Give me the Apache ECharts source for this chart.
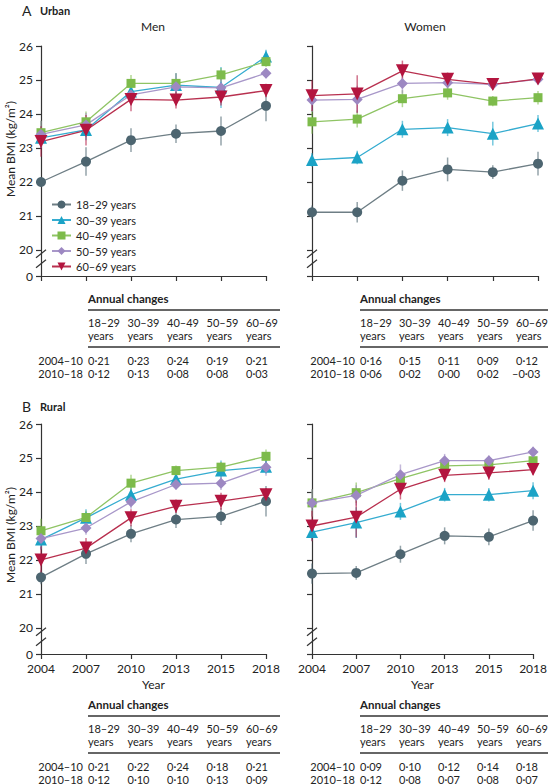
<!DOCTYPE html>
<html><head><meta charset="utf-8">
<script src="https://cdn.jsdelivr.net/npm/echarts@6/dist/echarts.min.js"></script>
<style>html,body{margin:0;padding:0;background:#fff}#c{width:550px;height:784px}</style>
</head><body><div id="c"></div>
<script>
const years = ['2004','2007','2010','2013','2015','2018'];
const ageGroups = ['18–29 years','30–39 years','40–49 years','50–59 years','60–69 years'];
const yTicks = [20,21,22,23,24,25,26];
const periods = ['2004–10','2010–18'];

// mean BMI, rows = age groups, columns = years
const urbanMenMean = [
 [22.00,22.60,23.23,23.42,23.50,24.24],
 [23.30,23.53,24.66,24.85,24.78,25.69],
 [23.45,23.77,24.90,24.90,25.15,25.54],
 [23.40,23.68,24.56,24.80,24.77,25.20],
 [23.19,23.52,24.43,24.41,24.50,24.69]];
const urbanMenErr = [
 [0.10,0.42,0.35,0.27,0.43,0.45],
 [0.30,0.30,0.35,0.35,0.60,0.20],
 [0.35,0.30,0.25,0.30,0.20,0.15],
 [0.40,0.35,0.30,0.40,0.30,0.15],
 [0.45,0.45,0.35,0.25,0.25,0.20]];
const urbanWomenMean = [
 [21.11,21.11,22.04,22.37,22.29,22.54],
 [22.65,22.72,23.55,23.60,23.42,23.72],
 [23.77,23.85,24.45,24.62,24.38,24.48],
 [24.41,24.43,24.90,24.92,24.87,25.02],
 [24.54,24.59,25.27,25.02,24.87,25.03]];
const urbanWomenErr = [
 [0.20,0.30,0.30,0.35,0.20,0.35],
 [0.20,0.20,0.25,0.25,0.35,0.25],
 [0.35,0.25,0.25,0.20,0.15,0.20],
 [0.35,0.40,0.30,0.20,0.15,0.15],
 [0.45,0.55,0.30,0.20,0.15,0.15]];
const ruralMenMean = [
 [21.49,22.18,22.77,23.19,23.28,23.73],
 [22.60,23.24,23.92,24.38,24.63,24.74],
 [22.86,23.25,24.26,24.63,24.73,25.05],
 [22.63,22.94,23.71,24.22,24.26,24.73],
 [22.00,22.35,23.24,23.58,23.73,23.92]];
const ruralMenErr = [
 [0.20,0.30,0.25,0.25,0.25,0.45],
 [0.30,0.25,0.25,0.20,0.30,0.20],
 [0.35,0.20,0.25,0.15,0.15,0.20],
 [0.30,0.20,0.20,0.15,0.20,0.25],
 [0.40,0.30,0.25,0.20,0.25,0.20]];
const ruralWomenMean = [
 [21.60,21.62,22.17,22.71,22.68,23.16],
 [22.82,23.10,23.43,23.92,23.92,24.04],
 [23.68,23.98,24.39,24.77,24.80,24.92],
 [23.68,23.90,24.51,24.92,24.92,25.18],
 [23.00,23.26,24.08,24.49,24.56,24.66]];
const ruralWomenErr = [
 [0.30,0.20,0.25,0.25,0.25,0.30],
 [0.25,0.45,0.25,0.20,0.20,0.25],
 [0.40,0.30,0.20,0.15,0.15,0.15],
 [0.40,0.30,0.30,0.20,0.15,0.15],
 [0.45,0.60,0.30,0.20,0.20,0.15]];

// annual changes tables, rows = periods, columns = age groups
const urbanMenChange = [[0.21,0.23,0.24,0.19,0.21],[0.12,0.13,0.08,0.08,0.03]];
const urbanWomenChange = [[0.16,0.15,0.11,0.09,0.12],[0.06,0.02,0.00,0.02,-0.03]];
const ruralMenChange = [[0.21,0.22,0.24,0.18,0.21],[0.12,0.10,0.10,0.13,0.09]];
const ruralWomenChange = [[0.09,0.10,0.12,0.14,0.18],[0.12,0.08,0.07,0.08,0.07]];

const FONT = 'Lato, "Open Sans", sans-serif';
const TXT = '#222';
const AX = '#333';
const colors = ['#4d6570','#1ba3c6','#7dbb4b','#9d88c2','#b3153f'];
const lineColors = ['#6e7e85','#35acd0','#8fc464','#a897c9','#b8304f'];
const symbols = ['circle','triangle','rect','diamond','triangle'];
const symbolSizes = [10,12,9,11,13];
const symbolRotates = [0,0,0,0,180];
const yMin = 19.235;

const panels = [
 {mean: urbanMenMean, err: urbanMenErr, grid:{left:41, top:46, width:225, height:230}, labels:true, xlab:false},
 {mean: urbanWomenMean, err: urbanWomenErr, grid:{left:312, top:46, width:226, height:230}, labels:false, xlab:false},
 {mean: ruralMenMean, err: ruralMenErr, grid:{left:41, top:424, width:225, height:230}, labels:true, xlab:true},
 {mean: ruralWomenMean, err: ruralWomenErr, grid:{left:312, top:424, width:226, height:230}, labels:false, xlab:true}
];

const chart = echarts.init(document.getElementById('c'), null, {renderer:'svg'});

const grid = panels.map(p => p.grid);
const xAxis = panels.map((p,i) => ({
  type:'category', gridIndex:i, data: years, boundaryGap:false,
  axisLine:{show:true, onZero:false, lineStyle:{color:AX, width:1.2}},
  axisTick:{show:true, length:5, interval:0, lineStyle:{color:AX, width:1.2}},
  axisLabel:{show:p.xlab, interval:0, color:TXT, fontSize:12, fontFamily:FONT, margin:8},
  splitLine:{show:false},
  name: p.xlab ? 'Year' : '', nameLocation:'middle', nameGap:24,
  nameTextStyle:{color:TXT, fontSize:12, fontFamily:FONT}
}));
const yTickVals = [yMin].concat(yTicks);
const yAxis = panels.map((p,i) => ({
  type:'value', gridIndex:i, min:yMin, max:26,
  axisLine:{show:true, lineStyle:{color:AX, width:1.2}},
  axisTick:{show:true, length:5, customValues:yTickVals, lineStyle:{color:AX, width:1.2}},
  axisLabel:{show:p.labels, customValues:yTickVals, color:TXT, fontSize:12, fontFamily:FONT, margin:8,
    formatter: v => (v < 19.9 ? '0' : String(Math.round(v)))},
  splitLine:{show:false}
}));

const series = [];
panels.forEach((p,i) => {
  p.mean.forEach((row,k) => {
    series.push({
      type:'custom', xAxisIndex:i, yAxisIndex:i, silent:true, z:1,
      renderItem:(params, api) => {
        const lo = api.coord([api.value(0), api.value(1)]);
        const hi = api.coord([api.value(0), api.value(2)]);
        return {type:'line', shape:{x1:lo[0], y1:lo[1], x2:hi[0], y2:hi[1]},
          style:{stroke:colors[k], lineWidth:1.5, opacity:0.6}};
      },
      data: row.map((m,j) => [j, m - p.err[k][j], m + p.err[k][j]])
    });
  });
  p.mean.forEach((row,k) => {
    series.push({
      type:'line', name: ageGroups[k], xAxisIndex:i, yAxisIndex:i, z:3,
      data: row, symbol: symbols[k], symbolSize: symbolSizes[k], symbolRotate: symbolRotates[k],
      showAllSymbol:true,
      lineStyle:{color: lineColors[k], width:1.3},
      itemStyle:{color: colors[k]},
      emphasis:{disabled:true}, animation:false
    });
  });
});

chart.setOption({
  animation:false,
  grid, xAxis, yAxis, series,
  legend:{
    data: ageGroups, orient:'vertical', left:51, top:199, padding:0,
    itemWidth:19, itemHeight:10, itemGap:4.5,
    textStyle:{color:TXT, fontSize:11, fontFamily:FONT}
  }
});

// decorations: titles, axis names, break marks, tables
const g = [];
function txt(x, y, text, o) {
  o = o || {};
  g.push({type:'text', x, y, rotation:o.rot || 0, silent:true,
    style:{text, fill:o.fill || TXT, fontSize:o.size || 11, fontFamily:FONT, fontWeight:o.weight || 'normal',
      align:o.align || 'left', verticalAlign:'middle', textAlign:o.align || 'left', textVerticalAlign:'middle'}});
}
function line(x1, y1, x2, y2, w, c) {
  g.push({type:'line', silent:true, shape:{x1, y1, x2, y2}, style:{stroke:c || AX, lineWidth:w || 1.2}});
}
txt(22, 10, 'A', {size:14});
txt(40, 10, 'Urban', {size:11, weight:'bold'});
txt(22, 406, 'B', {size:14});
txt(40, 406, 'Rural', {size:11, weight:'bold'});
txt(153, 26, 'Men', {size:12, align:'center'});
txt(425, 26, 'Women', {size:12, align:'center'});
txt(10, 149, 'Mean BMI (kg/m²)', {size:12, align:'center', rot:Math.PI/2});
txt(10, 535, 'Mean BMI (kg/m²)', {size:12, align:'center', rot:Math.PI/2});

panels.forEach((p,i) => {
  const pt = chart.convertToPixel({gridIndex:i}, [0, 19.74]);
  const x = pt[0], y = pt[1];
  g.push({type:'rect', silent:true, shape:{x:x-2, y:y-4, width:4, height:8}, style:{fill:'#fff'}});
  line(x-5, y-1, x+5, y-9, 1.2);
  line(x-5, y+9, x+5, y+1, 1.2);
});

function fmt(v) { return (v < 0 ? '–' : '') + Math.abs(v).toFixed(2).replace('.', '·'); }
function table(x0, y0, step, right, data) {
  txt(x0, y0, 'Annual changes', {size:11.5, weight:'bold'});
  line(x0, y0+12, right, y0+12, 1.6);
  ageGroups.forEach((a,k) => {
    const parts = a.split(' ');
    txt(x0 + k*step, y0+24, parts[0], {size:11});
    txt(x0 + k*step, y0+37, parts[1], {size:11});
  });
  line(x0, y0+49, right, y0+49, 1.6);
  periods.forEach((per,r) => {
    txt(x0 - 5, y0+62+r*13, per, {size:11, align:'right'});
    data[r].forEach((v,k) => txt(x0 + k*step + (v < 0 ? -4 : 0), y0+62+r*13, fmt(v), {size:11}));
  });
}
table(88, 298, 39.5, 280, urbanMenChange);
table(360, 298, 39, 548, urbanWomenChange);
table(88, 704, 39.5, 280, ruralMenChange);
table(360, 704, 39, 548, ruralWomenChange);

chart.setOption({graphic: g});
</script></body></html>
